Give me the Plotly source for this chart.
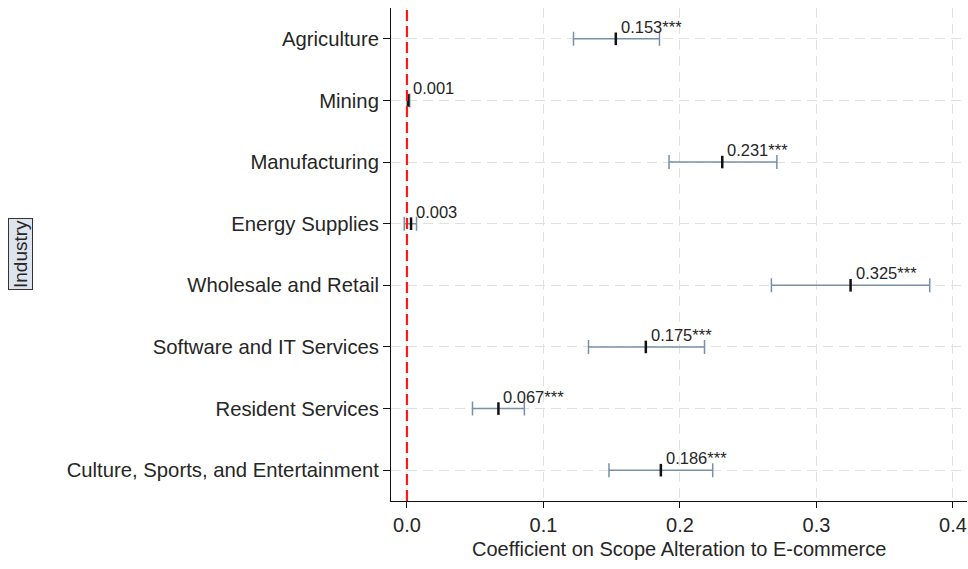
import plotly.graph_objects as go

# Industry-level coefficient estimates with 95% confidence bounds
industries = [
    "Agriculture",
    "Mining",
    "Manufacturing",
    "Energy Supplies",
    "Wholesale and Retail",
    "Software and IT Services",
    "Resident Services",
    "Culture, Sports, and Entertainment",
]
coef = [0.153, 0.001, 0.231, 0.003, 0.325, 0.175, 0.067, 0.186]
ci_low = [0.122, 0.000, 0.192, -0.002, 0.267, 0.133, 0.048, 0.148]
ci_high = [0.185, 0.002, 0.271, 0.007, 0.383, 0.218, 0.086, 0.224]
stars = ["***", "", "***", "", "***", "***", "***", "***"]

x_ticks = [0.0, 0.1, 0.2, 0.3, 0.4]
x_tick_text = ["0.0", "0.1", "0.2", "0.3", "0.4"]

FONT = "Liberation Sans, Arial, sans-serif"
TEXT = "#262626"
GRID = "#e0e0e0"

err_plus = [h - c for h, c in zip(ci_high, coef)]
err_minus = [c - l for c, l in zip(coef, ci_low)]

fig = go.Figure()

fig.add_trace(go.Scatter(
    x=coef,
    y=industries,
    mode="markers",
    marker=dict(symbol="line-ns", size=9, line=dict(color="#111111", width=2.5)),
    error_x=dict(
        type="data",
        symmetric=False,
        array=err_plus,
        arrayminus=err_minus,
        color="#7890a8",
        thickness=1.5,
        width=7,
    ),
    showlegend=False,
    hoverinfo="skip",
))

# Coefficient labels sitting just above each estimate
for name, c, s in zip(industries, coef, stars):
    fig.add_annotation(
        x=c, y=name, xref="x", yref="y",
        text=f"{c:.3f}{s}",
        showarrow=False,
        xanchor="left", yanchor="middle",
        xshift=3, yshift=12,
        font=dict(family=FONT, size=16.5, color=TEXT),
    )

# Reference line at zero
fig.add_shape(
    type="line", xref="x", yref="paper",
    x0=0, x1=0, y0=0, y1=1,
    line=dict(color="#ff1a1a", width=2.2, dash="11px,5px"),
    layer="above",
)

# Boxed vertical axis title
fig.add_annotation(
    text="Industry",
    xref="paper", yref="paper",
    x=(21 - 391) / 576, y=1 - (254 - 8) / 493,
    xanchor="center", yanchor="middle",
    textangle=-90,
    showarrow=False,
    font=dict(family=FONT, size=19, color=TEXT),
    bgcolor="#dde4ee",
    bordercolor="#333333",
    borderwidth=1,
    borderpad=1,
)

# Horizontal axis title
fig.add_annotation(
    text="Coefficient on Scope Alteration to E-commerce",
    xref="paper", yref="paper",
    x=0.5, y=-(549 - 501) / 493,
    xanchor="center", yanchor="middle",
    showarrow=False,
    font=dict(family=FONT, size=20, color=TEXT),
)

fig.update_layout(
    width=968,
    height=569,
    margin=dict(l=391, r=1, t=8, b=68),
    paper_bgcolor="white",
    plot_bgcolor="white",
    font=dict(family=FONT, color=TEXT),
    xaxis=dict(
        range=[-0.0117, 0.4103],
        tickvals=x_ticks,
        ticktext=x_tick_text,
        tickfont=dict(size=20, color=TEXT),
        showgrid=True,
        gridcolor=GRID,
        griddash="10px,6px",
        gridwidth=1,
        zeroline=False,
        showline=True,
        linecolor="#111111",
        linewidth=1,
        ticks="outside",
        ticklen=6,
        tickcolor="#111111",
    ),
    yaxis=dict(
        type="category",
        categoryorder="array",
        categoryarray=industries,
        range=[7.5, -0.5],
        tickfont=dict(size=20.3, color=TEXT),
        showgrid=True,
        gridcolor=GRID,
        griddash="10px,6px",
        gridwidth=1,
        zeroline=False,
        showline=True,
        linecolor="#111111",
        linewidth=1,
        ticks="outside",
        ticklen=7,
        tickcolor="#111111",
    ),
)

fig.write_html("out.html")
